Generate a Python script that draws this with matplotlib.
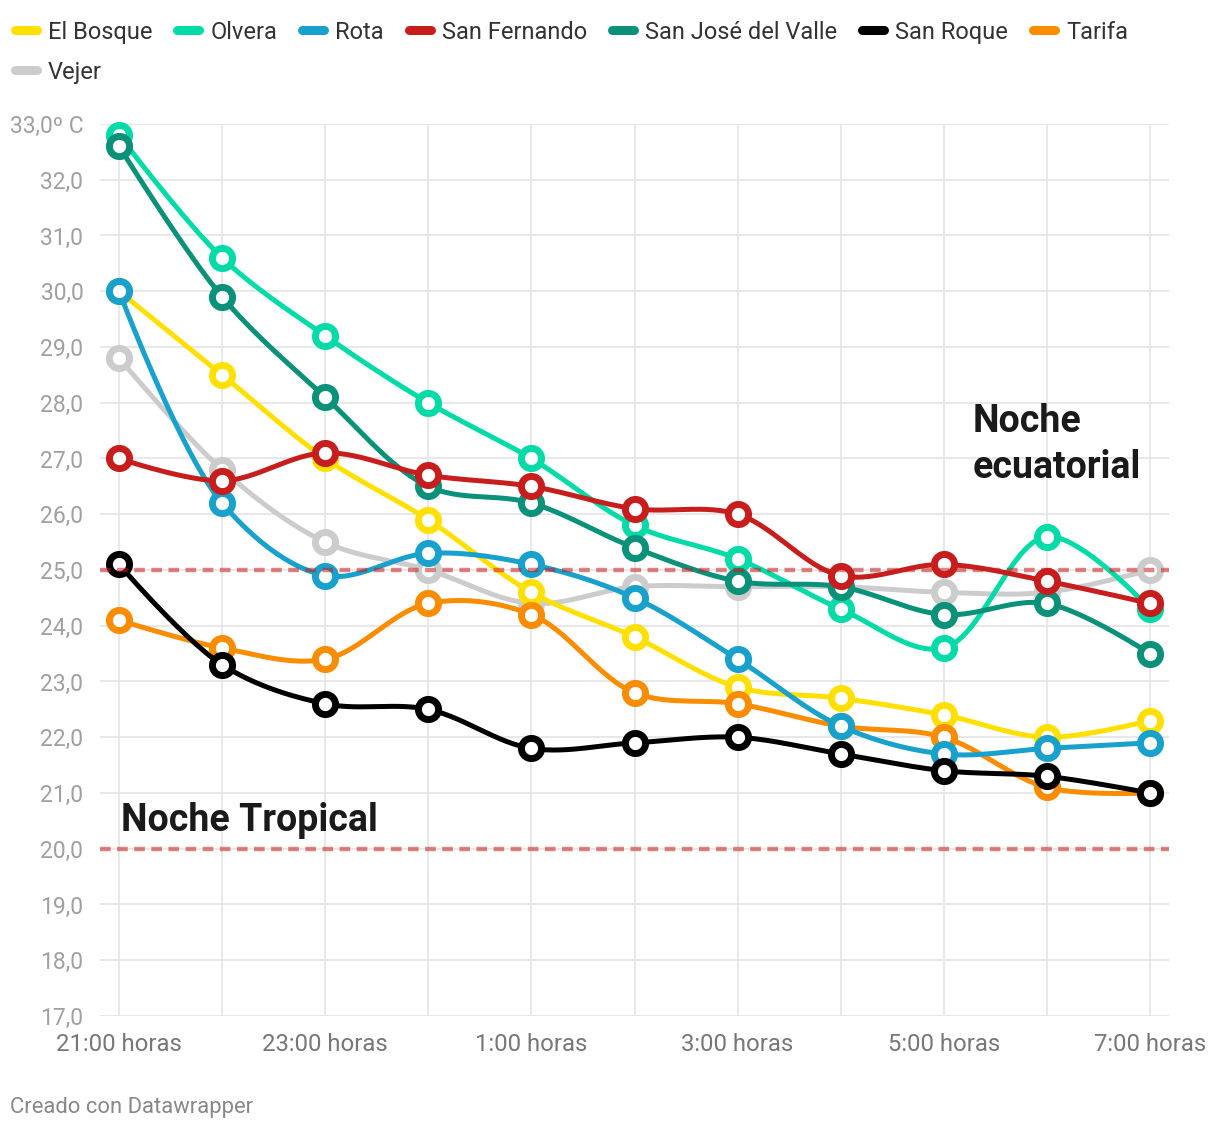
import numpy as np
import matplotlib
matplotlib.use('Agg')
import matplotlib.pyplot as plt
from matplotlib.lines import Line2D

plt.rcParams['font.family'] = ['Roboto', 'DejaVu Sans']

# datos: temperatura por hora (21:00 -> 7:00)
horas = ['21:00 horas', '22:00 horas', '23:00 horas', '0:00 horas', '1:00 horas', '2:00 horas',
         '3:00 horas', '4:00 horas', '5:00 horas', '6:00 horas', '7:00 horas']
el_bosque = [30.0, 28.5, 27.0, 25.9, 24.6, 23.8, 22.9, 22.7, 22.4, 22.0, 22.3]
olvera = [32.8, 30.6, 29.2, 28.0, 27.0, 25.8, 25.2, 24.3, 23.6, 25.6, 24.3]
rota = [30.0, 26.2, 24.9, 25.3, 25.1, 24.5, 23.4, 22.2, 21.7, 21.8, 21.9]
san_fernando = [27.0, 26.6, 27.1, 26.7, 26.5, 26.1, 26.0, 24.9, 25.1, 24.8, 24.4]
san_jose = [32.6, 29.9, 28.1, 26.5, 26.2, 25.4, 24.8, 24.7, 24.2, 24.4, 23.5]
san_roque = [25.1, 23.3, 22.6, 22.5, 21.8, 21.9, 22.0, 21.7, 21.4, 21.3, 21.0]
tarifa = [24.1, 23.6, 23.4, 24.4, 24.2, 22.8, 22.6, 22.2, 22.0, 21.1, 21.0]
vejer = [28.8, 26.8, 25.5, 25.0, 24.4, 24.7, 24.7, 24.7, 24.6, 24.6, 25.0]

nombres = ['El Bosque', 'Olvera', 'Rota', 'San Fernando', 'San José del Valle', 'San Roque', 'Tarifa', 'Vejer']
series = [el_bosque, olvera, rota, san_fernando, san_jose, san_roque, tarifa, vejer]
colores = ['#ffe000', '#00dba7', '#18a1cd', '#c71e1d', '#0a917a', '#000000', '#fa8c00', '#cccccc']
# orden de dibujo (mayor = encima)
capas = [2, 4, 5, 7, 6, 8, 3, 1]

umbrales = [25.0, 20.0]
yticks = list(range(17, 34))


def catmull_rom(pts, alpha=0.5, n=30):
    # como d3.curveCatmullRom, en coordenadas de pantalla
    pts = np.asarray(pts, float)
    ext = np.vstack([pts[0], pts, pts[-1]])
    out = [pts[:1]]
    for i in range(1, len(ext) - 2):
        p0, p1, p2, p3 = ext[i - 1], ext[i], ext[i + 1], ext[i + 2]
        l01 = np.hypot(*(p1 - p0)) ** alpha
        l12 = np.hypot(*(p2 - p1)) ** alpha
        l23 = np.hypot(*(p3 - p2)) ** alpha
        c1, c2 = p1.copy(), p2.copy()
        if l01 > 1e-9:
            a = 2 * l01 ** 2 + 3 * l01 * l12 + l12 ** 2
            nn = 3 * l01 * (l01 + l12)
            c1 = (p1 * a - p0 * l12 ** 2 + p2 * l01 ** 2) / nn
        if l23 > 1e-9:
            b = 2 * l23 ** 2 + 3 * l23 * l12 + l12 ** 2
            m = 3 * l23 * (l23 + l12)
            c2 = (p2 * b + p1 * l23 ** 2 - p3 * l12 ** 2) / m
        t = np.linspace(0, 1, n)[1:, None]
        seg = (1 - t) ** 3 * p1 + 3 * (1 - t) ** 2 * t * c1 + 3 * (1 - t) * t ** 2 * c2 + t ** 3 * p2
        out.append(seg)
    return np.vstack(out)


W, H = 1220, 1132
fig = plt.figure(figsize=(W / 100, H / 100), dpi=100)
ax = fig.add_axes([100 / W, (H - 1016) / H, 1069 / W, 892 / H])
x = np.arange(len(horas))
ax.set_xlim(-0.185, 10.185)
ax.set_ylim(17, 33)

for s in ax.spines.values():
    s.set_visible(False)

# rejilla
for v in yticks:
    ax.axhline(v, color='#e6e6e6', lw=1.3, zorder=0)
for xi in x:
    ax.plot([xi, xi], [17, 33], color='#e6e6e6', lw=1.3, zorder=0)

ax.set_yticks(yticks)
ylabels = [f'{v},0' for v in yticks]
ylabels[-1] = '33,0º C'
ax.set_yticklabels(ylabels, fontsize=16.5, color='#a0a0a0')
ax.set_xticks(x)
ax.set_xticklabels([h if i % 2 == 0 else '' for i, h in enumerate(horas)], fontsize=17.2, color='#777777')
ax.tick_params(length=0)
ax.tick_params(axis='y', pad=12)
ax.tick_params(axis='x', pad=12)

# curvas
fig.canvas.draw()
for vals, col, z in zip(series, colores, capas):
    disp = ax.transData.transform(np.column_stack([x, vals]))
    curva = ax.transData.inverted().transform(catmull_rom(disp))
    ax.plot(curva[:, 0], curva[:, 1], color=col, lw=3.6, solid_capstyle='round',
            zorder=10 + 2 * z, clip_on=False)
    ax.plot(x, vals, 'o', ms=14.5, mew=5, mfc='white', mec=col, zorder=11 + 2 * z, clip_on=False)

# líneas de referencia
for u in umbrales:
    ax.plot([-0.185, 10.185], [u, u], color='#c71e1d', alpha=0.55, lw=3.2,
            dashes=(2.4, 1.45), solid_capstyle='butt', zorder=40)

ax.text(0.02, 20.31, 'Noche Tropical', fontsize=27, fontweight='bold', color='#1a1a1a', va='baseline')
ax.text(8.28, 27.475, 'Noche', fontsize=27, fontweight='bold', color='#1a1a1a', va='baseline')
ax.text(8.28, 26.65, 'ecuatorial', fontsize=27, fontweight='bold', color='#1a1a1a', va='baseline')

# leyenda
r = fig.canvas.get_renderer()
px, fila = 10, 0
for nombre, col in zip(nombres, colores):
    t = fig.text(0, 0, nombre, fontsize=17, color='#333333')
    ancho = t.get_window_extent(r).width
    if px + 38 + ancho > W - 15:
        px, fila = 10, fila + 1
    yc = H - 30 - 40 * fila
    fig.add_artist(Line2D([(px + 4.5) / W, (px + 26.5) / W], [yc / H, yc / H], color=col, lw=6.5,
                          solid_capstyle='round', transform=fig.transFigure))
    t.set_position(((px + 38) / W, yc / H))
    t.set_va('center_baseline')
    px = px + 38 + ancho + 20

fig.text(10 / W, 1 - 1108 / H, 'Creado con Datawrapper', fontsize=15.8, color='#888888', va='center')

fig.savefig('out.png', dpi=100)
